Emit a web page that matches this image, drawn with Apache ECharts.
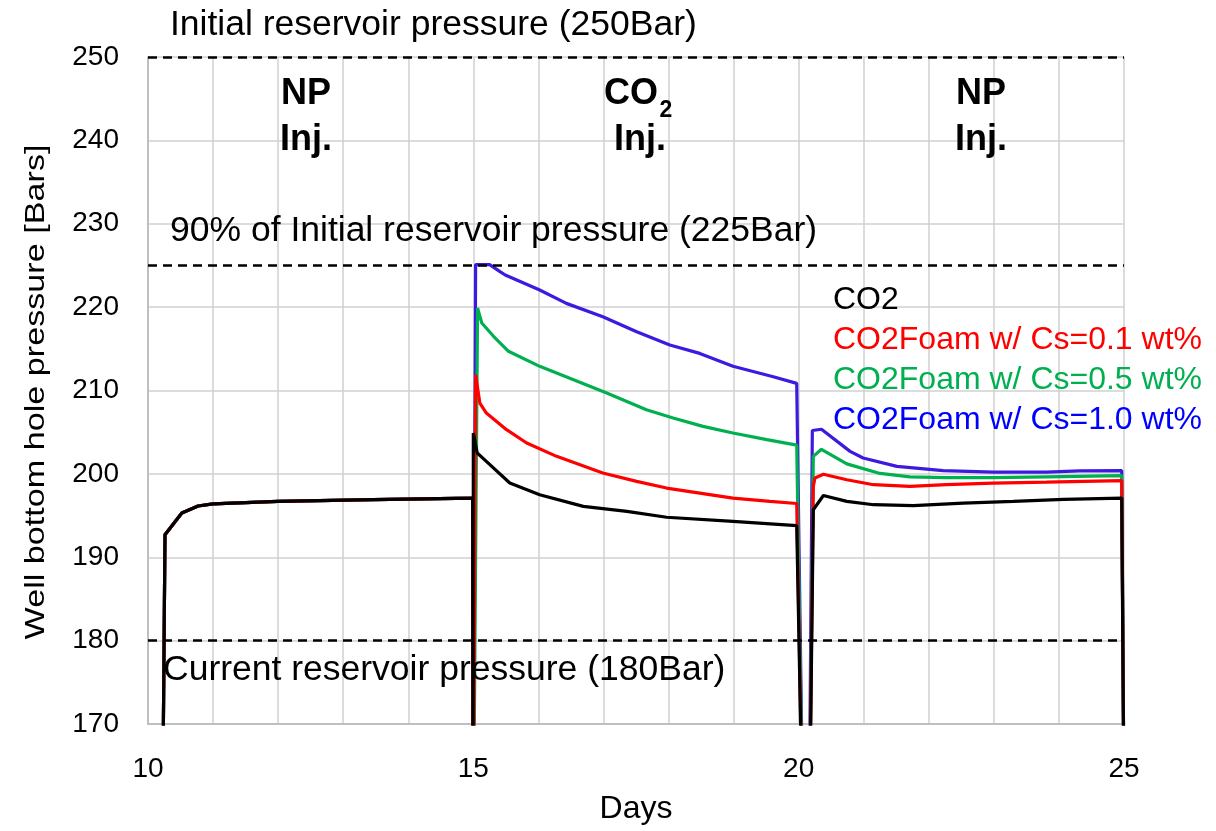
<!DOCTYPE html>
<html>
<head>
<meta charset="utf-8">
<script src="https://cdn.jsdelivr.net/npm/echarts@6/dist/echarts.min.js"></script>
<style>html,body{margin:0;padding:0;background:#fff}#c{width:1216px;height:831px}</style>
</head>
<body>
<div id="c"></div>
<script>
// ---- data (days, bar) ----
var seriesNames = ['CO2', 'CO2Foam w/ Cs=0.1 wt%', 'CO2Foam w/ Cs=0.5 wt%', 'CO2Foam w/ Cs=1.0 wt%'];
var refLevels = [250, 225, 180];
var xTickLabels = [10, 15, 20, 25];

// shared NP injection phase (all series coincide)
var npPhase1 = [[10.215,150],[10.261,192.7],[10.52,195.3],[10.77,196.15],[11.0,196.4],[12.0,196.7],[13.46,196.9],[14.99,197.1]];

var co2Rest = [[14.995,150],[15.0,204.9],[15.06,202.5],[15.2,201.5],[15.56,198.9],[16.02,197.5],[16.69,196.1],[17.36,195.5],[17.97,194.8],[18.99,194.3],[19.97,193.8],[20.08,150],
  [20.154,150],[20.225,195.7],[20.38,197.4],[20.74,196.7],[21.15,196.3],[21.76,196.2],[22.53,196.5],[23.3,196.7],[24.07,196.95],[24.965,197.1],[25.01,150]];
var foam01Rest = [[14.995,150],[15.0,150],[15.035,211.9],[15.1,208.5],[15.2,207.3],[15.51,205.3],[15.82,203.7],[16.28,202.1],[16.99,200.1],[17.51,199.1],[17.97,198.3],[18.48,197.7],[18.99,197.1],[19.56,196.7],[19.97,196.45],[20.08,150],
  [20.154,150],[20.225,198.5],[20.25,199.5],[20.38,199.95],[20.74,199.3],[21.15,198.7],[21.71,198.5],[22.27,198.7],[22.99,198.9],[23.81,199.0],[24.965,199.2],[25.01,150]];
var foam05Rest = [[14.995,150],[15.0,150],[15.065,219.9],[15.13,218.1],[15.31,216.5],[15.54,214.7],[16.02,212.9],[16.54,211.3],[17.05,209.7],[17.66,207.7],[18.07,206.7],[18.53,205.7],[18.99,204.9],[19.51,204.1],[19.97,203.45],[20.08,150],
  [20.154,150],[20.225,202.1],[20.35,202.95],[20.74,201.2],[21.25,200.05],[21.71,199.65],[22.27,199.55],[22.99,199.55],[23.81,199.65],[24.965,199.8],[25.01,150]];
var foam10Rest = [[14.995,150],[15.0,150],[15.035,225.1],[15.25,225.1],[15.41,224.25],[15.49,223.85],[16.02,222.05],[16.43,220.45],[16.99,218.85],[17.51,217.05],[18.02,215.45],[18.48,214.45],[18.99,212.9],[19.61,211.65],[19.97,210.85],[20.08,150],
  [20.154,150],[20.21,205.2],[20.35,205.35],[20.79,202.7],[20.99,201.9],[21.51,200.9],[22.22,200.4],[22.99,200.2],[23.81,200.2],[24.32,200.35],[24.965,200.4],[25.01,150]];

var co2Data = npPhase1.concat(co2Rest);
var foam01Data = npPhase1.concat(foam01Rest);
var foam05Data = npPhase1.concat(foam05Rest);
var foam10Data = npPhase1.concat(foam10Rest);

// ---- chart ----
var FONT = '"Liberation Sans", Arial, sans-serif';
var colors = {co2:'#000000', f01:'#ff0000', f05:'#00b050', f10:'#3c1ae0'};

var chart = echarts.init(document.getElementById('c'), null, {renderer:'canvas'});

function lineSeries(name, data, color, z) {
  return {
    name: name, type: 'line', data: data, showSymbol: false, symbol: 'none',
    lineStyle: {color: color, width: 3.2}, itemStyle: {color: color},
    z: z, clip: true, animation: false
  };
}

var blackSeries = lineSeries(seriesNames[0], co2Data, colors.co2, 5);
blackSeries.markLine = {
  silent: true, symbol: ['none','none'], animation: false,
  label: {show: false},
  lineStyle: {color:'#000', type:[9,6], width:2.5},
  data: refLevels.map(function(v){ return {yAxis: v}; })
};

var option = {
  backgroundColor: '#fff',
  animation: false,
  grid: {left: 148, right: 92, top: 57, bottom: 107, containLabel: false},
  xAxis: {
    type: 'value', min: 10, max: 25, interval: 1,
    axisLine: {show: true, lineStyle: {color:'#bfbfbf', width:2}},
    axisTick: {show: false},
    splitLine: {show: true, lineStyle: {color:'#d0d0d0', width:1.5}},
    axisLabel: {
      margin: 31, fontSize: 28, color:'#000', fontFamily: FONT,
      formatter: function(v){ return xTickLabels.indexOf(v) >= 0 ? String(v) : ''; }
    },
    name: 'Days', nameLocation: 'middle', nameGap: 69,
    nameTextStyle: {fontSize: 32, color:'#000', fontFamily: FONT}
  },
  yAxis: {
    type: 'value', min: 170, max: 250, interval: 10,
    axisLine: {show: true, lineStyle: {color:'#bfbfbf', width:2}},
    axisTick: {show: false},
    splitLine: {show: true, lineStyle: {color:'#d0d0d0', width:1.5}},
    axisLabel: {margin: 29, fontSize: 28, color:'#000', fontFamily: FONT}
  },
  legend: {
    orient: 'vertical', left: 823, top: 279, itemGap: 8,
    icon: 'none', itemWidth: 0, itemHeight: 0, selectedMode: false,
    textStyle: {fontSize: 32, fontFamily: FONT},
    data: [
      {name: seriesNames[0], textStyle: {color:'#000000'}},
      {name: seriesNames[1], textStyle: {color:'#ff0000'}},
      {name: seriesNames[2], textStyle: {color:'#00b050'}},
      {name: seriesNames[3], textStyle: {color:'#0000ff'}}
    ]
  },
  series: [
    lineSeries(seriesNames[3], foam10Data, colors.f10, 2),
    lineSeries(seriesNames[2], foam05Data, colors.f05, 3),
    lineSeries(seriesNames[1], foam01Data, colors.f01, 4),
    blackSeries
  ],
  graphic: [
    {type:'text', x:36, y:392, rotation: Math.PI/2, scaleX: 1.22, z: 10,
     style:{text:'Well bottom hole pressure [Bars]', font:'28px ' + FONT, fill:'#000',
            textAlign:'center', textVerticalAlign:'middle', align:'center', verticalAlign:'middle'}},
    {type:'text', x:170, y:25, z: 10,
     style:{text:'Initial reservoir pressure (250Bar)', font:'35.5px ' + FONT, fill:'#000',
            textAlign:'left', textVerticalAlign:'middle', align:'left', verticalAlign:'middle'}},
    {type:'text', x:170, y:231, z: 10,
     style:{text:'90% of Initial reservoir pressure (225Bar)', font:'35.5px ' + FONT, fill:'#000',
            textAlign:'left', textVerticalAlign:'middle', align:'left', verticalAlign:'middle'}},
    {type:'text', x:163, y:670, z: 10,
     style:{text:'Current reservoir pressure (180Bar)', font:'35.5px ' + FONT, fill:'#000',
            textAlign:'left', textVerticalAlign:'middle', align:'left', verticalAlign:'middle'}},
    {type:'text', x:306, y:71, z: 10,
     style:{text:'NP\nInj.', font:'bold 36px ' + FONT, lineHeight: 46, fill:'#000',
            textAlign:'center', textVerticalAlign:'top', align:'center', verticalAlign:'top'}},
    {type:'text', x:981, y:71, z: 10,
     style:{text:'NP\nInj.', font:'bold 36px ' + FONT, lineHeight: 46, fill:'#000',
            textAlign:'center', textVerticalAlign:'top', align:'center', verticalAlign:'top'}},
    {type:'text', x:631, y:94, z: 10,
     style:{text:'CO', font:'bold 36px ' + FONT, fill:'#000',
            textAlign:'center', textVerticalAlign:'middle', align:'center', verticalAlign:'middle'}},
    {type:'text', x:666, y:111, z: 10,
     style:{text:'2', font:'bold 23px ' + FONT, fill:'#000',
            textAlign:'center', textVerticalAlign:'middle', align:'center', verticalAlign:'middle'}},
    {type:'text', x:640, y:140, z: 10,
     style:{text:'Inj.', font:'bold 36px ' + FONT, fill:'#000',
            textAlign:'center', textVerticalAlign:'middle', align:'center', verticalAlign:'middle'}}
  ]
};
chart.setOption(option);
</script>
</body>
</html>
